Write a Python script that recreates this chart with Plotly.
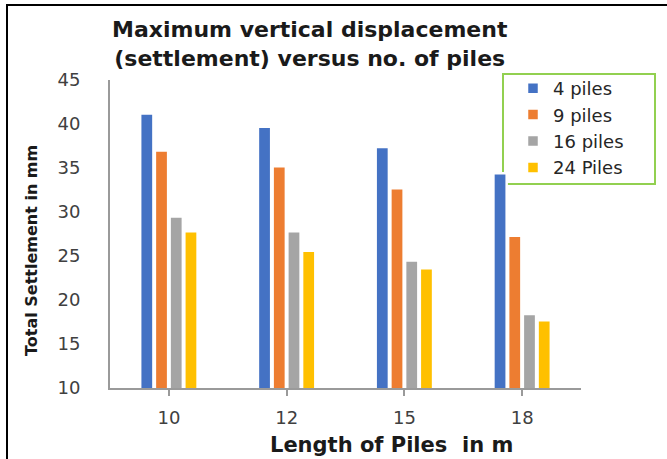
import plotly.graph_objects as go

# Pile length categories (m) and maximum settlement (mm) for each pile group
lengths = ["10", "12", "15", "18"]
series_names = ["4 piles", "9 piles", "16 piles", "24 Piles"]
settle_4 = [41.2, 39.7, 37.4, 34.4]
settle_9 = [37.0, 35.2, 32.7, 27.3]
settle_16 = [29.5, 27.8, 24.5, 18.4]
settle_24 = [27.8, 25.6, 23.6, 17.7]
y_ticks = [10, 15, 20, 25, 30, 35, 40, 45]

colors = ["#4472C4", "#ED7D31", "#A5A5A5", "#FFC000"]
series_values = [settle_4, settle_9, settle_16, settle_24]

FONT = "DejaVu Sans"
AXIS_GREY = "#9a9a9a"

fig = go.Figure()
for name, vals, col in zip(series_names, series_values, colors):
    fig.add_trace(go.Bar(
        x=lengths, y=vals, name=name, legendgroup=name,
        marker=dict(color=col, line=dict(color="white", width=2.5)),
    ))

W, H = 667, 459
L, R, T, B = 110, 86, 80, 71
pw, ph = W - L - R, H - T - B


def px_x(p):
    return (p - L) / pw


def px_y(p):
    return (H - B - p) / ph


fig.update_layout(
    width=W, height=H,
    margin=dict(l=L, r=R, t=T, b=B),
    paper_bgcolor="white", plot_bgcolor="white",
    barmode="group", bargap=0.5, bargroupgap=0.1,
    font=dict(family=FONT, color="#404040"),
    showlegend=True,
    legend=dict(
        x=px_x(513), y=px_y(70), xanchor="left", yanchor="top",
        bgcolor="rgba(0,0,0,0)", borderwidth=0,
        font=dict(family=FONT, size=18, color="#262626"),
        tracegroupgap=9, traceorder="normal",
    ),
    xaxis=dict(
        type="category", range=[-0.5, 3.5],
        showline=True, linecolor=AXIS_GREY, linewidth=1.8,
        ticks="outside", ticklen=6, tickcolor=AXIS_GREY, tickwidth=1.8,
        tickfont=dict(family=FONT, size=18, color="#404040"),
        ticklabelstandoff=6,
        showgrid=False, zeroline=False,
    ),
    yaxis=dict(
        range=[10, 45], tickvals=y_ticks,
        showline=True, linecolor=AXIS_GREY, linewidth=1.8,
        ticks="", showgrid=False, zeroline=False,
        tickfont=dict(family=FONT, size=18, color="#404040"),
        ticklabelstandoff=24,
    ),
    annotations=[
        dict(text="<b>Maximum vertical displacement<br>(settlement) versus no. of piles</b>",
             xref="paper", yref="paper", x=px_x(310), y=px_y(44),
             xanchor="center", yanchor="middle", showarrow=False,
             font=dict(family=FONT, size=22, color="#1a1a1a")),
        dict(text="<b>Length of Piles  in m</b>",
             xref="paper", yref="paper", x=px_x(391), y=px_y(445),
             xanchor="center", yanchor="middle", showarrow=False,
             font=dict(family=FONT, size=21, color="#1a1a1a")),
        dict(text="<b>Total Settlement in mm</b>", textangle=-90,
             xref="paper", yref="paper", x=px_x(31), y=px_y(251),
             xanchor="center", yanchor="middle", showarrow=False,
             font=dict(family=FONT, size=16, color="#1a1a1a")),
    ],
    shapes=[
        # legend frame
        dict(type="rect", xref="paper", yref="paper",
             x0=px_x(503), x1=px_x(655), y0=px_y(74), y1=px_y(184),
             line=dict(color="#92D050", width=2), fillcolor="rgba(0,0,0,0)", layer="below"),
        # end tick on the category axis
        dict(type="line", xref="x", yref="y", ysizemode="pixel", yanchor=10,
             x0=3.5, x1=3.5, y0=0, y1=-6, line=dict(color=AXIS_GREY, width=1.8)),
        # value axis end ticks
        dict(type="line", xref="x", yref="y", xsizemode="pixel", xanchor=-0.5,
             x0=0, x1=-8, y0=45, y1=45, line=dict(color=AXIS_GREY, width=1.8)),
        dict(type="line", xref="x", yref="y", xsizemode="pixel", xanchor=-0.5,
             x0=0, x1=-8, y0=10, y1=10, line=dict(color=AXIS_GREY, width=1.8)),
        # picture frame (top and left edges)
        dict(type="line", xref="paper", yref="paper",
             x0=px_x(6), x1=px_x(668), y0=px_y(5), y1=px_y(5),
             line=dict(color="black", width=2)),
        dict(type="line", xref="paper", yref="paper",
             x0=px_x(7), x1=px_x(7), y0=px_y(4), y1=px_y(460),
             line=dict(color="black", width=2)),
    ],
)

fig.write_html("out.html")
